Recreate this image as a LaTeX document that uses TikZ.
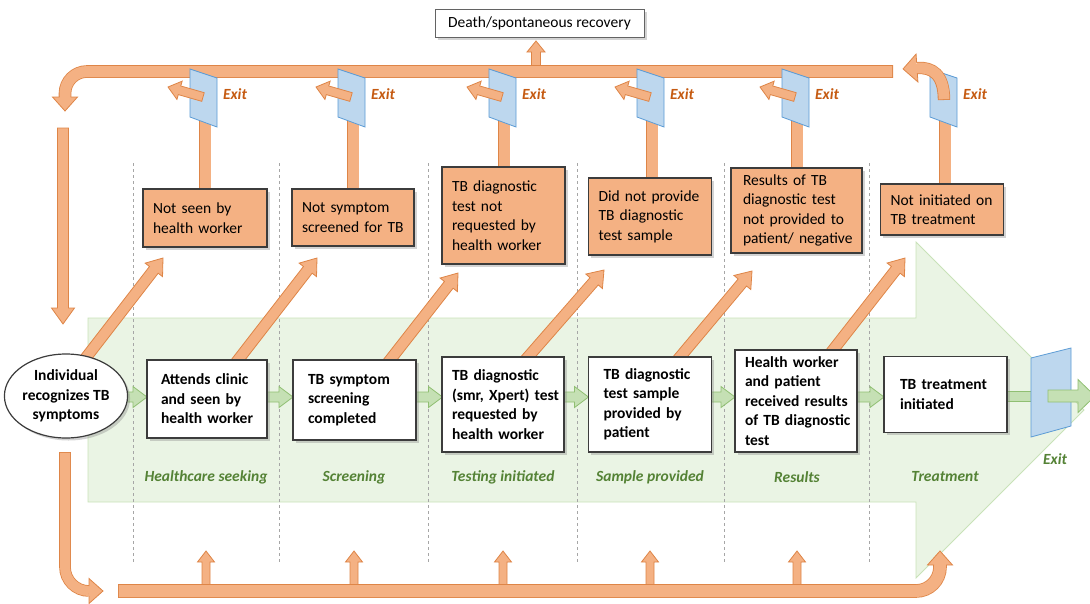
\documentclass[tikz,border=0pt]{standalone}
\usepackage{fontspec}
\setmainfont{Carlito}
\usetikzlibrary{calc,shapes.geometric,shadows}

\definecolor{orfill}{HTML}{F4B183}
\definecolor{ordraw}{HTML}{DE8547}
\definecolor{boxdraw}{HTML}{3C3C3C}
\definecolor{gatefill}{HTML}{BDD7EE}
\definecolor{gatedraw}{HTML}{5B9BD5}
\definecolor{gfill}{HTML}{C5E0B4}
\definecolor{gdraw}{HTML}{90BF72}
\definecolor{bigfill}{HTML}{EAF4E4}
\definecolor{bigdraw}{HTML}{C8E2B8}
\definecolor{exitor}{HTML}{C55A11}
\definecolor{stagegreen}{HTML}{548235}
\definecolor{dashgray}{HTML}{A6A6A6}

% straight block arrow: [style]{start}{tip}{half shaft}{half head}{head length}
\newcommand\blockarr[6][]{%
  \coordinate (bah) at ($(#3)!#6!(#2)$);
  \draw[#1] ($(#2)!#4!90:(#3)$) -- ($(bah)!#4!90:(#3)$) -- ($(bah)!#5!90:(#3)$) -- (#3)
    -- ($(bah)!#5!-90:(#3)$) -- ($(bah)!#4!-90:(#3)$) -- ($(#2)!#4!-90:(#3)$) -- cycle;}
% orange shaft along a path: {outer width}{inner width}{radius}{path}
\newcommand\oshaft[4]{%
  \draw[ordraw, line width=#1, rounded corners=#3] #4;
  \draw[orfill, line width=#2, rounded corners=#3, shorten <=0.8pt] #4;}
% orange arrow head: {base}{tip}{half shaft}{half head}
\newcommand\ohead[4]{%
  \fill[orfill] ($(#1)!#4!90:(#2)$) -- (#2) -- ($(#1)!#4!-90:(#2)$) -- cycle;
  \draw[ordraw, line width=0.8pt] ($(#1)!#3!90:(#2)$) -- ($(#1)!#4!90:(#2)$) -- (#2)
    -- ($(#1)!#4!-90:(#2)$) -- ($(#1)!#3!-90:(#2)$);}

\begin{document}
\begin{tikzpicture}[x=1pt,y=-1pt,
  font=\fontsize{15.5}{19.5}\selectfont,
  shadowed/.style={drop shadow={opacity=0.35,shadow xshift=2.5pt,shadow yshift=-2.5pt}},
  mbox/.style={draw=boxdraw, fill=white, line width=1.2pt, shadowed,
    font=\fontsize{15.5}{19.5}\selectfont\bfseries, align=left, inner ysep=0pt},
  obox/.style={draw=boxdraw, fill=orfill, line width=1.2pt, shadowed,
    font=\fontsize{15.5}{19.5}\selectfont, align=left, inner ysep=0pt, inner xsep=10pt},
  oarrow/.style={fill=orfill, draw=ordraw, line width=0.8pt, line join=miter},
  garrow/.style={fill=gfill, draw=gdraw, line width=0.8pt, line join=miter},
  gateshape/.style={fill=gatefill, draw=gatedraw, line width=0.8pt},
  exitlbl/.style={font=\fontsize{15.5}{19}\selectfont\bfseries\itshape, text=exitor},
  stagelbl/.style={font=\fontsize{15.5}{19}\selectfont\bfseries\itshape, text=stagegreen},
  sepline/.style={draw=dashgray, dashed, line width=0.8pt}
]
\useasboundingbox (0,0) rectangle (1090,603);

% big green arrow
\draw[fill=bigfill, draw=bigdraw, line width=0.8pt]
  (88,318) -- (916,318) -- (916,242) -- (1084,410) -- (916,578) -- (916,502) -- (88,502) -- cycle;

% dashed separators
\foreach \x in {133.5,279,428.5,577,724.5,869}
  \draw[sepline] (\x,163) -- (\x,564);

% death arrow and top bar
\coordinate (dA) at (536,69); \coordinate (dT) at (536,41);
\blockarr[oarrow]{dA}{dT}{4.5pt}{9pt}{11pt}
\coordinate (tbR) at (893,71.5); \coordinate (tbC) at (65,71.5);
\coordinate (tlB) at (65,97); \coordinate (tlT) at (65,111);
\oshaft{12.6pt}{11pt}{22pt}{(tbR) -- (tbC) -- (tlB)}
\ohead{tlB}{tlT}{5.5pt}{12.5pt}

% left vertical arrow
\coordinate (lvS) at (63,128); \coordinate (lvT) at (63,324);
\blockarr[oarrow]{lvS}{lvT}{5.5pt}{11.5pt}{16pt}

% bottom left curved arrow
\coordinate (blS) at (65,452); \coordinate (blC) at (65,591);
\coordinate (blB) at (89,591); \coordinate (blT) at (103,591);
\oshaft{11.6pt}{10pt}{24pt}{(blS) -- (blC) -- (blB)}
\ohead{blB}{blT}{5pt}{12.5pt}

% bottom small up arrows
\foreach \x [count=\i] in {206,354,503,650,797} {
  \coordinate (bu\i) at (\x,589); \coordinate (bt\i) at (\x,551);
  \blockarr[oarrow]{bu\i}{bt\i}{4pt}{8.5pt}{11pt}
}
% bottom bar
\coordinate (bbL) at (118,591); \coordinate (bbC) at (940,591);
\coordinate (bbB) at (940,565); \coordinate (bbT) at (940,551);
\oshaft{13.6pt}{12pt}{24pt}{(bbL) -- (bbC) -- (bbB)}
\ohead{bbB}{bbT}{6pt}{12.5pt}

% vertical bars from exit boxes to gates
\foreach \x/\yb [count=\i] in {205/200,353/200,504/180,652/190,797/180,945/195} {
  \coordinate (vb\i) at (\x,\yb); \coordinate (vt\i) at (\x,115);
  \draw[ordraw, line width=12.6pt] (vb\i) -- (vt\i);
  \draw[orfill, line width=11pt] (vb\i) -- (vt\i);
}
% gates
\foreach \x in {205,353,504,652,797,945}
  \draw[gateshape] (\x-15,69) -- (\x+12,78) -- (\x+12,127) -- (\x-15,117) -- cycle;
% gate exit arrows
\foreach \x [count=\i] in {205,353,504,652,797} {
  \coordinate (gs\i) at (\x-2,97); \coordinate (gt\i) at (\x-37,87);
  \blockarr[oarrow]{gs\i}{gt\i}{4.5pt}{9.5pt}{12pt}
}
\coordinate (g6s) at (944,100); \coordinate (g6c1) at (944,74);
\coordinate (g6c2) at (932,67); \coordinate (g6b) at (917,68);
\coordinate (g6t) at ($(g6b)!-14pt!(g6c2)$);
\oshaft{12.4pt}{10.8pt}{0.1pt}{(g6s) .. controls (g6c1) and (g6c2) .. (g6b)}
\ohead{g6b}{g6t}{5.4pt}{14pt}
\foreach \x [count=\i] in {205,353,504,652,797,945}
  \node[exitlbl] (ex\i) at (\x+30,94) {Exit};

% diagonal arrows
\foreach \sx/\sy/\tx/\ty [count=\i] in {88/355/163/258, 238/360/317/258, 390/360/458/273,
    528/357/604/270, 680/357/752/271, 833/350/905/258} {
  \coordinate (ds\i) at (\sx,\sy); \coordinate (dt\i) at (\tx,\ty);
  \coordinate (dss\i) at ($(ds\i)!-14pt!(dt\i)$);
  \blockarr[oarrow]{dss\i}{dt\i}{5.5pt}{11pt}{15pt}
}

% green flow arrows
\foreach \sx/\tx [count=\i] in {112/147, 262/293, 411/442.5, 560/588.5, 707/735, 852/884} {
  \coordinate (fs\i) at (\sx,397); \coordinate (ft\i) at (\tx,397);
  \blockarr[garrow]{fs\i}{ft\i}{5pt}{10.5pt}{14pt}
}
\draw[garrow] (1003,391) rectangle (1040,401);

% main boxes
\node[ellipse, draw=boxdraw, fill=white, line width=1.2pt, shadowed, minimum width=104pt,
  minimum height=84pt, inner sep=0pt, align=center,
  font=\fontsize{15.5}{19.5}\selectfont\bfseries] (ind) at (66,396)
  {Individual\\recognizes TB\\symptoms};
\node[mbox, text width=92pt, inner xsep=14pt, minimum height=78pt] (b1) at (207,399)
  {\mbox{Attends clinic}\\\mbox{and seen by}\\\mbox{health worker}};
\node[mbox, text width=93pt, inner xsep=15pt, minimum height=80pt] (b2) at (354.5,400)
  {\mbox{TB symptom}\\\mbox{screening}\\\mbox{completed}};
\node[mbox, text width=102pt, inner xsep=10pt, minimum height=95pt] (b3) at (503,404.5)
  {\mbox{TB diagnostic}\\\mbox{(smr, Xpert) test}\\\mbox{requested by}\\\mbox{health worker}};
\node[mbox, text width=93pt, inner xsep=15pt, minimum height=95pt] (b4) at (650,404.5)
  {\mbox{TB diagnostic}\\\mbox{test sample}\\\mbox{provided by}\\\mbox{patient}};
\node[mbox, text width=102pt, inner xsep=10pt, minimum height=102pt] (b5) at (796,401)
  {\mbox{Health worker}\\\mbox{and patient}\\\mbox{received results}\\\mbox{of TB diagnostic}\\\mbox{test}};
\node[mbox, text width=91pt, inner xsep=16pt, minimum height=76pt] (b6) at (945.5,394.5)
  {\mbox{TB treatment}\\\mbox{initiated}\\[10pt]};

% exit boxes
\node[obox, text width=104pt, minimum height=58pt] (o1) at (205,218)
  {\mbox{Not seen by}\\\mbox{health worker}};
\node[obox, text width=102pt, minimum height=57pt] (o2) at (353,217.5)
  {\mbox{Not symptom}\\\mbox{screened for TB}};
\node[obox, text width=103pt, minimum height=97pt] (o3) at (503.5,215.5)
  {\mbox{TB diagnostic}\\\mbox{test not}\\\mbox{requested by}\\\mbox{health worker}};
\node[obox, text width=103pt, minimum height=77pt] (o4) at (650,216.5)
  {\mbox{Did not provide}\\\mbox{TB diagnostic}\\\mbox{test sample}};
\node[obox, text width=107pt, inner xsep=12pt, minimum height=85pt] (o5) at (796.5,210.5)
  {\mbox{Results of TB}\\\mbox{diagnostic test}\\\mbox{not provided to}\\\mbox{patient/ negative}};
\node[obox, text width=103pt, minimum height=51pt] (o6) at (942,209.5)
  {\mbox{Not initiated on}\\\mbox{TB treatment}};

% death box
\node[draw=boxdraw!80, fill=white, line width=0.9pt, shadowed, minimum width=209pt,
  minimum height=28pt, inner sep=0pt] (death) at (539.5,23) {Death/spontaneous recovery};

% right exit gate and final arrow
\draw[gateshape] (1031,358) -- (1071,348) -- (1071,426) -- (1031,437) -- cycle;
\coordinate (fxS) at (1048,396); \coordinate (fxT) at (1095,396);
\blockarr[garrow]{fxS}{fxT}{6pt}{16.5pt}{17pt}
\node[stagelbl] (exg) at (1055,459) {Exit};

% stage labels
\node[stagelbl] (s1) at (206,477) {Healthcare seeking};
\node[stagelbl] (s2) at (354,477) {Screening};
\node[stagelbl] (s3) at (503,477) {Testing initiated};
\node[stagelbl] (s4) at (650,477) {Sample provided};
\node[stagelbl] (s5) at (797,477) {Results};
\node[stagelbl] (s6) at (945,477) {Treatment};
\end{tikzpicture}
\end{document}
